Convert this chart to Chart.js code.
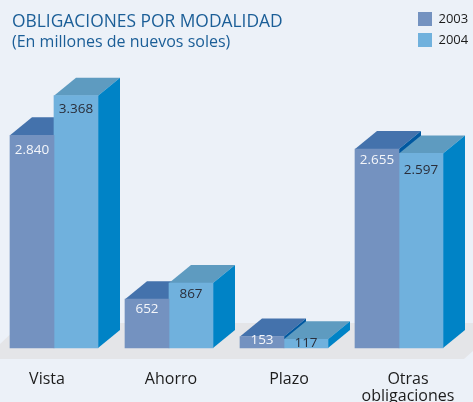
<!DOCTYPE html>
<html><head><meta charset="utf-8">
<style>html,body{margin:0;padding:0;background:#ecf1f8;overflow:hidden}canvas{display:block}</style>
<script src="https://cdn.jsdelivr.net/npm/chart.js@4"></script>
</head><body><canvas id="c" width="473" height="402"></canvas>
<script>
const categories = ["Vista","Ahorro","Plazo",["Otras","obligaciones"]];
const values2003 = [2840,652,153,2655];
const values2004 = [3368,867,117,2597];
const titleText = "OBLIGACIONES POR MODALIDAD";
const subtitleText = "(En millones de nuevos soles)";
const labelShift = [-7,2,5,9];
const valueLabelDrop = [[15,10,4,11],[13,11,4,17]];
const frontColors = ["#7492c0","#70b1dd"];
const topColors = ["#4472ac","#5e9bc0"];
const sideColors = ["#0058a0","#0083c6"];
const valueColors = ["#f4f6fa","#2a2e3a"];
const DX = 22, DY = 18;
const FONT = "'Open Sans', sans-serif";

const poly = (ctx, pts, fill) => {
  ctx.beginPath(); pts.forEach((p,i)=> i?ctx.lineTo(p[0],p[1]):ctx.moveTo(p[0],p[1]));
  ctx.closePath(); ctx.fillStyle = fill; ctx.fill();
};
const fmt = v => String(v).replace(/\B(?=(\d{3})+$)/g,".");

const solid = {
  id:"solid",
  afterLayout(chart){
    const l = chart.legend; const w = l.width, h = l.height;
    l.left = 411; l.right = l.left + w; l.top = 5; l.bottom = l.top + h;
  },
  beforeDatasetsDraw(chart){
    const ctx = chart.ctx, x = chart.scales.x, y = chart.scales.y;
    const base = y.getPixelForValue(0);
    ctx.save();
    poly(ctx,[[22,base-25],[473,base-25],[473,base+3],[464,base+11],[0,base+11],[0,base-4]],"#e4e5e8");
    chart.data.datasets.forEach((ds,d)=>{
      chart.getDatasetMeta(d).data.forEach(bar=>{
        const L = bar.x-bar.width/2, R = bar.x+bar.width/2, T = bar.y, B = bar.base;
        poly(ctx,[[L,T],[L+DX,T-DY],[R+DX,T-DY],[R,T]],topColors[d]);
        poly(ctx,[[R,T],[R+DX,T-DY],[R+DX,B-DY],[R,B]],sideColors[d]);
      });
    });
    ctx.restore();
  },
  afterDatasetsDraw(chart){
    const ctx = chart.ctx;
    ctx.save(); ctx.font = "13.5px "+FONT; ctx.textAlign="center"; ctx.textBaseline="middle";
    chart.data.datasets.forEach((ds,d)=>{
      chart.getDatasetMeta(d).data.forEach((bar,i)=>{
        ctx.fillStyle = valueColors[d];
        ctx.fillText(fmt(ds.data[i]), bar.x, bar.y+valueLabelDrop[d][i]);
      });
    });
    ctx.restore();
  }
};

new Chart(document.getElementById("c"),{
  type:"bar",
  data:{labels:categories,datasets:[
    {label:"2003",data:values2003,backgroundColor:frontColors[0],clip:false},
    {label:"2004",data:values2004,backgroundColor:frontColors[1],clip:false}
  ]},
  plugins:[solid],
  options:{
    responsive:false,animation:false,
    layout:{padding:{left:12,right:74,top:0,bottom:0}},
    datasets:{bar:{barThickness:44}},
    plugins:{
      legend:{position:"chartArea",align:"start",labels:{boxWidth:14,boxHeight:14,padding:7,color:"#1c1c1c",font:{family:FONT,size:13}}},
      title:{display:true,text:titleText,align:"start",color:"#1b5e97",padding:{top:11,bottom:0},font:{family:FONT,size:17.4,weight:"normal",lineHeight:1.24}},
      subtitle:{display:true,text:subtitleText,align:"start",color:"#1b5e97",padding:{top:0,bottom:34},font:{family:FONT,size:16,weight:"normal",lineHeight:1.2}},
      tooltip:{enabled:false}
    },
    scales:{
      x:{offset:false,grid:{display:false},border:{display:false},
        ticks:{maxRotation:0,autoSkip:false,padding:14,color:"#1c1c1c",font:{family:FONT,size:16,lineHeight:1.12}},
        afterFit(s){s.height=54; const o=s.getPixelForTick; if(!s._shifted){s._shifted=true; s.getPixelForTick=function(i){return o.call(this,i)+labelShift[i];};}}
      },
      y:{min:0,max:3500,grid:{display:false},border:{display:false},ticks:{display:false},afterFit(s){s.width=42;}}
    }
  }
});
</script></body></html>
